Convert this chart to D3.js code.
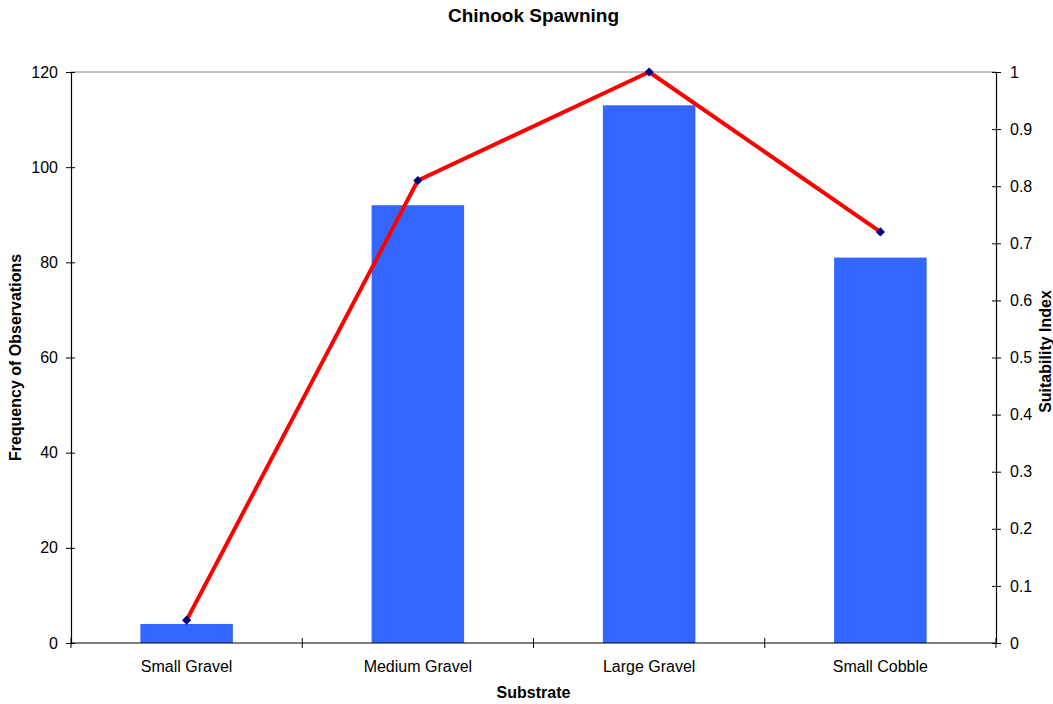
<!DOCTYPE html>
<html>
<head>
<meta charset="utf-8">
<script src="https://cdn.jsdelivr.net/npm/d3@7"></script>
<style>
  body { margin: 0; background: #fff; }
  svg { display: block; font-family: "Liberation Sans", Arial, sans-serif; }
</style>
</head>
<body>
<svg id="chart" width="1053" height="704"></svg>
<script>
// Substrate categories and observed values
const categories = ["Small Gravel", "Medium Gravel", "Large Gravel", "Small Cobble"];
const frequency = [4, 92, 113, 81];
const suitability = [0.04, 0.81, 1.0, 0.72];
const leftTicks = [0, 20, 40, 60, 80, 100, 120];
const rightTicks = [0, 0.1, 0.2, 0.3, 0.4, 0.5, 0.6, 0.7, 0.8, 0.9, 1];

const svg = d3.select("#chart");
const W = 1053, H = 704;
const margin = { left: 71, right: W - 996, top: 72, bottom: H - 643 };
const x0 = margin.left, x1 = W - margin.right, y0 = H - margin.bottom, y1 = margin.top;

const xBand = d3.scaleBand().domain(categories).range([x0, x1]);
const yL = d3.scaleLinear().domain([0, 120]).range([y0, y1]);
const yR = d3.scaleLinear().domain([0, 1]).range([y0, y1]);

// Top border of the plot area
svg.append("line").attr("x1", x0).attr("x2", x1).attr("y1", y1).attr("y2", y1)
  .attr("stroke", "#808080").attr("stroke-width", 1);

// Bars
svg.append("g").selectAll("rect").data(categories).join("rect")
  .attr("x", d => xBand(d) + xBand.bandwidth() * 0.3)
  .attr("width", xBand.bandwidth() * 0.4)
  .attr("y", (d, i) => yL(frequency[i]))
  .attr("height", (d, i) => y0 - yL(frequency[i]))
  .attr("fill", "#3366FF");

// Left axis
const gL = svg.append("g").attr("transform", `translate(${x0},0)`)
  .call(d3.axisLeft(yL).tickValues(leftTicks).tickSize(5).tickPadding(8).tickFormat(d3.format("d")));
gL.selectAll(".tick line").attr("x2", -5).attr("x1", 4);
// Right axis
const gR = svg.append("g").attr("transform", `translate(${x1},0)`)
  .call(d3.axisRight(yR).tickValues(rightTicks).tickSize(5).tickPadding(9).tickFormat(d3.format("~g")));
gR.selectAll(".tick line").attr("x1", -4).attr("x2", 5);
// Bottom axis with ticks at category boundaries
const gB = svg.append("g").attr("transform", `translate(0,${y0})`)
  .call(d3.axisBottom(xBand).tickSize(0).tickPadding(18));
const boundaries = categories.map(c => xBand(c)).concat([x1]);
gB.selectAll(".bnd").data(boundaries).join("line").attr("class", "bnd")
  .attr("x1", d => d).attr("x2", d => d).attr("y1", -5).attr("y2", 5).attr("stroke", "#000");

[gL, gR, gB].forEach(g => {
  g.attr("font-size", 16).attr("font-family", "Liberation Sans, Arial, sans-serif");
  g.select(".domain").attr("stroke", "#000").attr("stroke-width", 1.2);
  g.selectAll(".tick line").attr("stroke", "#000");
  g.selectAll("text").attr("fill", "#000");
});
gB.select(".domain").attr("d", `M${x0},0H${x1}`);

// Suitability line and markers
const pts = categories.map((c, i) => [xBand(c) + xBand.bandwidth() / 2, yR(suitability[i])]);
svg.append("path").attr("d", d3.line()(pts)).attr("fill", "none")
  .attr("stroke", "#FF0000").attr("stroke-width", 4).attr("stroke-linejoin", "round");
svg.append("g").selectAll("path").data(pts).join("path")
  .attr("d", d3.symbol(d3.symbolSquare, 42)())
  .attr("transform", d => `translate(${d[0]},${d[1]}) rotate(45)`)
  .attr("fill", "#000080");

// Titles
svg.append("text").attr("x", (x0 + x1) / 2).attr("y", 22).attr("text-anchor", "middle")
  .attr("font-size", 19).attr("font-weight", "bold").text("Chinook Spawning");
svg.append("text").attr("x", (x0 + x1) / 2).attr("y", 698).attr("text-anchor", "middle")
  .attr("font-size", 16).attr("font-weight", "bold").text("Substrate");
svg.append("text").attr("transform", `translate(21,${(y0 + y1) / 2}) rotate(-90)`)
  .attr("text-anchor", "middle").attr("font-size", 16).attr("font-weight", "bold")
  .text("Frequency of Observations");
svg.append("text").attr("transform", `translate(1051,${(y0 + y1) / 2 - 6}) rotate(-90)`)
  .attr("text-anchor", "middle").attr("font-size", 16).attr("font-weight", "bold")
  .text("Suitability Index");
</script>
</body>
</html>
